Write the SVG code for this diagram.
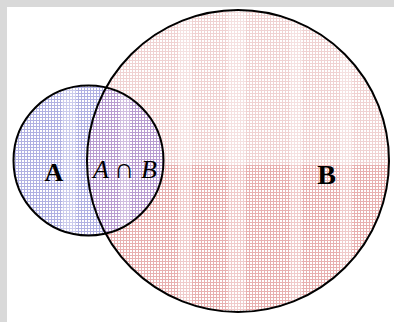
<svg xmlns="http://www.w3.org/2000/svg" width="394" height="322" viewBox="0 0 394 322">
<style>
.ring{fill:none;stroke:#000;stroke-width:2}
.lbl{font-family:"Liberation Serif","Times New Roman",serif;fill:#000}
.bold{font-weight:bold}
.it{font-style:italic}
.band{fill:#fff;opacity:0.35}
</style>
<defs>
<pattern id="pBlue" width="3" height="3" patternUnits="userSpaceOnUse">
<rect width="3" height="3" fill="#fff"/>
<rect x="0" y="0" width="3" height="1" fill="#b0b0e2"/>
<rect x="0" y="0" width="1" height="3" fill="#b0b0e2"/>
</pattern>
<pattern id="pPink" width="3" height="3" patternUnits="userSpaceOnUse">
<rect width="3" height="3" fill="#fff"/>
<rect x="0" y="0" width="3" height="1" fill="#e8b0b0"/>
<rect x="0" y="0" width="1" height="3" fill="#e8b0b0"/>
</pattern>
<pattern id="pPinkL" width="3" height="3" patternUnits="userSpaceOnUse">
<rect width="3" height="3" fill="#fff"/>
<rect x="0" y="0" width="3" height="1" fill="#f0d2d2"/>
<rect x="0" y="0" width="1" height="3" fill="#f0d2d2"/>
</pattern>
<pattern id="pPurp" width="3" height="3" patternUnits="userSpaceOnUse">
<rect width="3" height="3" fill="#fff"/>
<rect x="0" y="0" width="3" height="1" fill="#b89cd0"/>
<rect x="0" y="0" width="1" height="3" fill="#b89cd0"/>
</pattern>
<clipPath id="clipB"><circle cx="238" cy="161" r="151"/></clipPath>
<clipPath id="clipA"><circle cx="88.5" cy="160.5" r="75"/></clipPath>
<clipPath id="clipLow"><rect x="0" y="165" width="394" height="157"/></clipPath>
</defs>
<rect width="394" height="322" fill="#d9d9d9"/>
<rect x="7" y="7" width="387" height="315" fill="#fff"/>
<g id="setB">
<circle cx="238" cy="161" r="151" fill="url(#pPinkL)"/>
<circle cx="238" cy="161" r="151" fill="url(#pPink)" clip-path="url(#clipLow)"/>
<g clip-path="url(#clipB)">
<rect class="band" x="178" y="0" width="14" height="322"/>
<rect class="band" x="228" y="0" width="18" height="322"/>
<rect class="band" x="290" y="0" width="12" height="322"/>
<rect class="band" x="340" y="0" width="12" height="322"/>
</g>
</g>
<g id="setA">
<circle cx="88.5" cy="160.5" r="75" fill="url(#pBlue)"/>
</g>
<g id="intersection">
<circle cx="88.5" cy="160.5" r="75" fill="url(#pPurp)" clip-path="url(#clipB)"/>
</g>
<g clip-path="url(#clipA)">
<rect class="band" x="62" y="0" width="14" height="322"/>
<rect class="band" x="120" y="0" width="10" height="322"/>
</g>
<g id="outlines">
<circle class="ring" cx="238" cy="161" r="151"/>
<circle class="ring" cx="88.5" cy="160.5" r="75"/>
</g>
<g id="labels">
<text class="lbl bold" x="54" y="181" font-size="26" text-anchor="middle">A</text>
<text class="lbl bold" x="326.5" y="184" font-size="28" text-anchor="middle">B</text>
<text class="lbl" y="178" font-size="26"><tspan class="it" x="93">A</tspan><tspan x="114" font-size="28">∩</tspan><tspan class="it" x="141">B</tspan></text>
</g>
</svg>
